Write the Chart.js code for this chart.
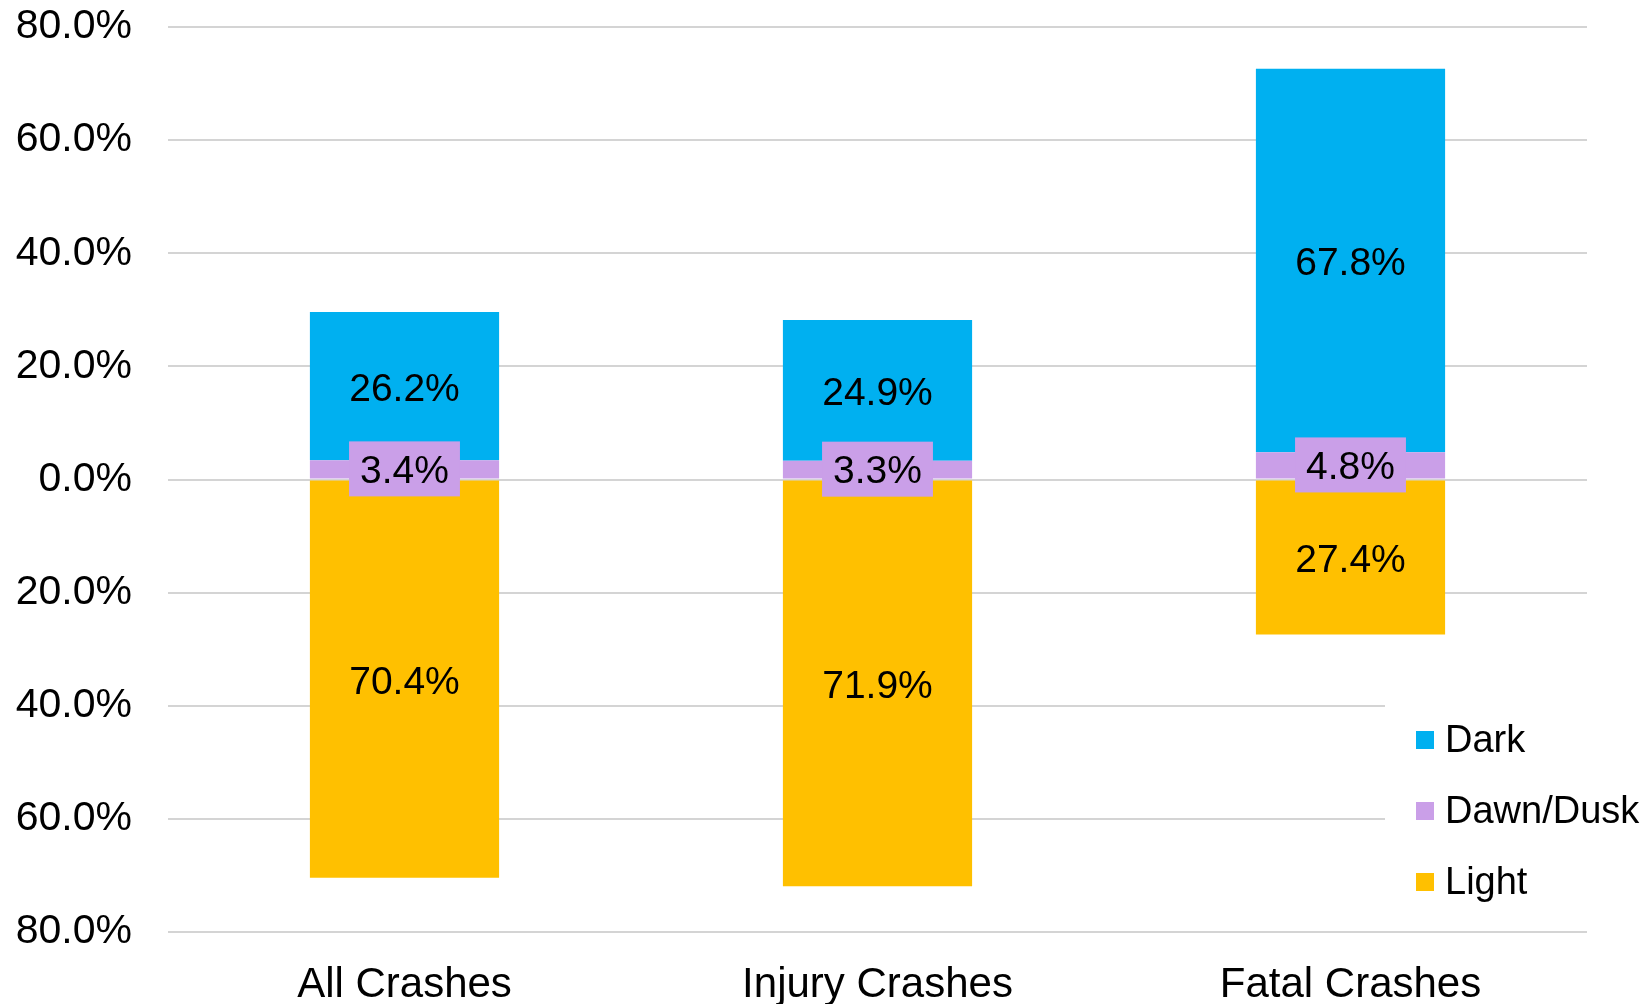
<!DOCTYPE html>
<html>
<head>
<meta charset="utf-8">
<script src="https://cdn.jsdelivr.net/npm/chart.js@4.4.0/dist/chart.umd.min.js"></script>
<style>
  html, body { margin: 0; padding: 0; background: #fff; }
</style>
</head>
<body>
<canvas id="crash-chart" width="1650" height="1004"></canvas>
<script>
const categories = ['All Crashes', 'Injury Crashes', 'Fatal Crashes']
const darkValues = [26.2, 24.9, 67.8]
const dawnDuskValues = [3.4, 3.3, 4.8]
const lightValues = [70.4, 71.9, 27.4]
const yMin = -80
const yMax = 80
const yStep = 20

const fontFamily = '"Liberation Sans", Arial, sans-serif'

// light bars hang below zero, labels show absolute values
const datasets = [{
  label: 'Light',
  data: lightValues.map(v => -v),
  backgroundColor: '#FFC000'
},
{
  label: 'Dawn/Dusk',
  data: dawnDuskValues,
  backgroundColor: '#CA9FE8',
  labelBox: true
},
{
  label: 'Dark',
  data: darkValues,
  backgroundColor: '#00B0F0'
}
]

const barLabels = {
  id: 'barLabels',
  afterDatasetsDraw(chart) {
    const ctx = chart.ctx
    ctx.save()
    ctx.font = '39px ' + fontFamily
    ctx.textAlign = 'center'
    ctx.textBaseline = 'middle'
    chart.data.datasets.forEach((ds, i) => {
      const meta = chart.getDatasetMeta(i)
      meta.data.forEach((bar, j) => {
        const text = Math.abs(ds.data[j]).toFixed(1) + '%'
        let y = (bar.y + bar.base) / 2
        if (ds.labelBox) {
          y -= 1
          const w = ctx.measureText(text).width + 22
          ctx.fillStyle = ds.backgroundColor
          ctx.fillRect(bar.x - w / 2, y - 27, w, 55)
        }
        ctx.fillStyle = '#000'
        ctx.fillText(text, bar.x, y + 4)
      })
    })
    ctx.restore()
  }
}

const sideLegend = {
  id: 'sideLegend',
  afterDraw(chart) {
    const ctx = chart.ctx
    ctx.save()
    // white legend box hides the gridlines behind it
    ctx.fillStyle = '#fff'
    ctx.fillRect(1385, 690, 265, 225)
    ctx.font = '38px ' + fontFamily
    ctx.textAlign = 'left'
    ctx.textBaseline = 'middle'
    const items = chart.data.datasets.slice().reverse()
    items.forEach((ds, i) => {
      const cy = 740 + i * 71
      ctx.fillStyle = ds.backgroundColor
      ctx.fillRect(1416, cy - 9, 18, 18)
      ctx.fillStyle = '#000'
      ctx.fillText(ds.label, 1445, cy + 2)
    })
    ctx.restore()
  }
}

const chartconfig = {
  type: 'bar',
  data: {
    labels: categories,
    datasets: datasets
  },
  options: {
    responsive: false,
    animation: false,
    layout: {
      padding: {
        top: 27,
        right: 63,
        left: 0,
        bottom: 0
      }
    },
    datasets: {
      bar: {
        categoryPercentage: 1,
        barPercentage: 0.4
      }
    },
    scales: {
      x: {
        stacked: true,
        grid: {
          display: false
        },
        border: {
          display: false
        },
        ticks: {
          color: '#000',
          padding: 20,
          font: {
            family: fontFamily,
            size: 42
          }
        },
        afterFit: (scale) => { scale.height = 72 }
      },
      y: {
        stacked: true,
        min: yMin,
        max: yMax,
        grid: {
          color: '#D4D4D4',
          lineWidth: 2,
          drawTicks: false
        },
        border: {
          display: false
        },
        ticks: {
          stepSize: yStep,
          color: '#000',
          padding: 36,
          font: {
            family: fontFamily,
            size: 41
          },
          callback: function (value) {
            return Math.abs(value).toFixed(1) + '%'
          }
        },
        afterFit: (scale) => {
          scale.width = 168
          scale.paddingTop = 0
          scale.paddingBottom = 0
        }
      }
    },
    plugins: {
      legend: {
        display: false
      },
      tooltip: {
        enabled: false
      }
    }
  },
  plugins: [barLabels, sideLegend]
}

const chartElement = document.getElementById('crash-chart').getContext('2d')
const crashChart = new Chart(chartElement, chartconfig)
</script>
</body>
</html>
